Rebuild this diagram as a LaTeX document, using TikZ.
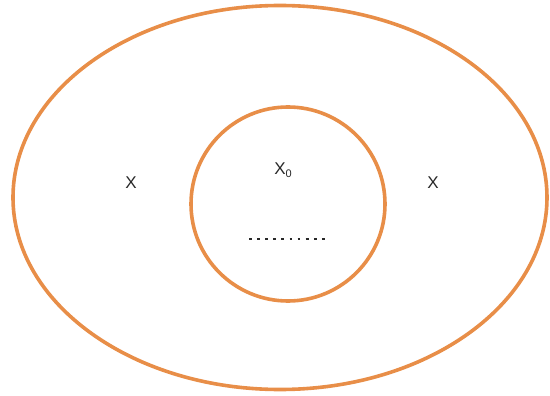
\documentclass[tikz,border=0pt]{standalone}
\usepackage{fontspec}
\setmainfont{Liberation Sans}
\usetikzlibrary{shapes.geometric}
\definecolor{setorange}{RGB}{232,142,72}
\definecolor{labelgray}{RGB}{40,40,40}
\begin{document}
\begin{tikzpicture}[x=1pt,y=-1pt,
  setline/.style={draw=setorange,line width=3.6pt},
  lbl/.style={text=labelgray,font=\fontsize{17}{19}\selectfont,inner sep=0pt}]
\useasboundingbox (0,0) rectangle (550,396);
\node[setline,ellipse,minimum width=534pt,minimum height=384pt,inner sep=0pt] (outer) at (280,197.5) {};
\node[setline,circle,minimum size=194pt,inner sep=0pt] (inner) at (288,204) {};
\node[lbl] (xl) at (131,183) {X};
\node[lbl] (xr) at (433,183) {X};
\node[lbl] (x0) at (283,170) {X\raisebox{-3.5pt}{\fontsize{11}{12}\selectfont 0}};
\coordinate (d1) at (249,239);
\coordinate (d2) at (325,239);
\draw[labelgray,line width=2.4pt,dash pattern=on 2.8pt off 5.3pt] (d1) -- (d2);
\end{tikzpicture}
\end{document}
